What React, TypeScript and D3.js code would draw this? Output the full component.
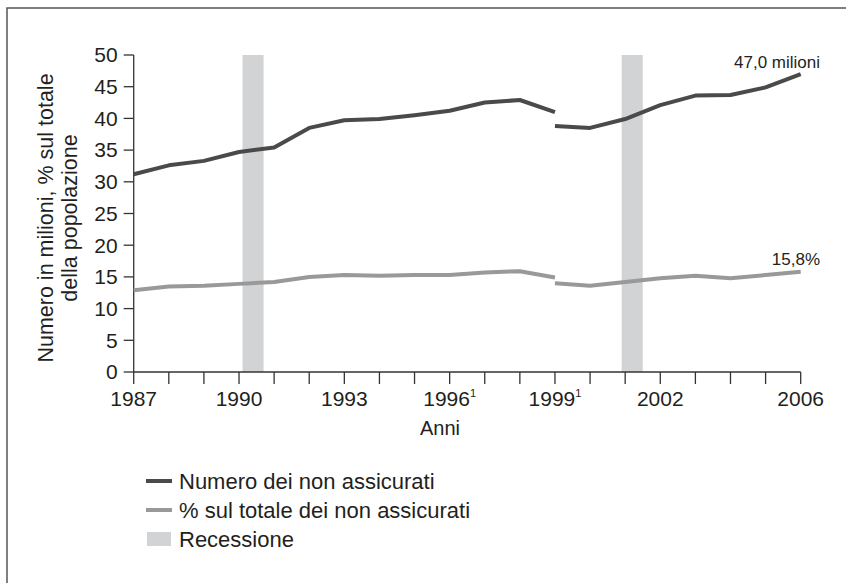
import React from 'react'
import * as d3 from 'd3'

// serie prima e dopo la revisione del 1999
const years1 = [1987, 1988, 1989, 1990, 1991, 1992, 1993, 1994, 1995, 1996, 1997, 1998, 1999]
const uninsured1 = [31.2, 32.6, 33.3, 34.7, 35.4, 38.5, 39.7, 39.9, 40.5, 41.2, 42.5, 42.9, 41.0]
const share1 = [12.9, 13.5, 13.6, 13.9, 14.2, 15.0, 15.3, 15.2, 15.3, 15.3, 15.7, 15.9, 14.9]

const years2 = [1999, 2000, 2001, 2002, 2003, 2004, 2005, 2006]
const uninsured2 = [38.8, 38.5, 39.9, 42.1, 43.6, 43.7, 44.9, 47.0]
const share2 = [14.0, 13.6, 14.2, 14.8, 15.2, 14.8, 15.3, 15.8]

const recessions = [[1990.1, 1990.7], [2000.9, 2001.5]]
const yTicks = [0, 5, 10, 15, 20, 25, 30, 35, 40, 45, 50]
const xLabels = [
  {year: 1987, text: '1987', note: ''},
  {year: 1990, text: '1990', note: ''},
  {year: 1993, text: '1993', note: ''},
  {year: 1996, text: '1996', note: '1'},
  {year: 1999, text: '1999', note: '1'},
  {year: 2002, text: '2002', note: ''},
  {year: 2006, text: '2006', note: ''}
]

const legendItems = [
  {label: 'Numero dei non assicurati', kind: 'line', color: '#4a4a4a'},
  {label: '% sul totale dei non assicurati', kind: 'line', color: '#999999'},
  {label: 'Recessione', kind: 'rect', color: '#d1d3d4'}
]

const DARK = '#4a4a4a'
const LIGHT = '#999999'
const TEXT = '#231f20'
const FONT = 'Liberation Sans, Arial, Helvetica, sans-serif'

const App = () => {
  const width = 846
  const height = 583

  const x = d3.scaleLinear().domain([1987, 2006]).range([133.7, 800.7])
  const y = d3.scaleLinear().domain([0, 50]).range([372, 55])

  const line = d3.line<[number, number]>()
    .x(d => x(d[0]))
    .y(d => y(d[1]))

  const zip = (xs: number[], vs: number[]) => xs.map((v, i) => [v, vs[i]] as [number, number])

  const allYears = d3.range(1987, 2007)

  return (
    <svg width={width} height={height} style={{position: 'absolute', left: 0, top: 0}} fontFamily={FONT}>
      <rect x={0} y={0} width={width} height={height} fill="white"/>
      <rect x={7} y={8} width={width + 20} height={height + 20} fill="none" stroke="#555" strokeWidth={1.5}/>

      {recessions.map((r, i) => (
        <rect key={i} x={x(r[0])} y={y(50)} width={x(r[1]) - x(r[0])} height={y(0) - y(50)} fill="#d1d3d4"/>
      ))}

      {/* asse y */}
      <line x1={x(1987)} x2={x(1987)} y1={y(50)} y2={y(0)} stroke="#333" strokeWidth={1.3}/>
      {yTicks.map(t => (
        <g key={t}>
          <line x1={x(1987) - 10} x2={x(1987)} y1={y(t)} y2={y(t)} stroke="#333" strokeWidth={1.3}/>
          <text x={x(1987) - 16} y={y(t)} dy="0.35em" textAnchor="end" fontSize={21} fill={TEXT}>{t}</text>
        </g>
      ))}

      {/* asse x */}
      <line x1={x(1987)} x2={x(2006)} y1={y(0)} y2={y(0)} stroke="#333" strokeWidth={1.3}/>
      {allYears.map(yr => (
        <line key={yr} x1={x(yr)} x2={x(yr)} y1={y(0)} y2={y(0) + 12} stroke="#333" strokeWidth={1.3}/>
      ))}
      {xLabels.map(l => (
        <text key={l.year} x={x(l.year)} y={406} textAnchor="middle" fontSize={21} fill={TEXT}>
          {l.text}
          {l.note && <tspan fontSize={11} dy={-9}>{l.note}</tspan>}
        </text>
      ))}
      <text x={440} y={435} textAnchor="middle" fontSize={20} fill={TEXT}>Anni</text>

      <text transform="translate(53,218) rotate(-90)" textAnchor="middle" fontSize={21.5} fill={TEXT}>
        Numero in milioni, % sul totale
      </text>
      <text transform="translate(77,218) rotate(-90)" textAnchor="middle" fontSize={21.5} fill={TEXT}>
        della popolazione
      </text>

      {/* serie */}
      <path d={line(zip(years1, uninsured1)) || ''} fill="none" stroke={DARK} strokeWidth={4} strokeLinejoin="round"/>
      <path d={line(zip(years2, uninsured2)) || ''} fill="none" stroke={DARK} strokeWidth={4} strokeLinejoin="round"/>
      <path d={line(zip(years1, share1)) || ''} fill="none" stroke={LIGHT} strokeWidth={4} strokeLinejoin="round"/>
      <path d={line(zip(years2, share2)) || ''} fill="none" stroke={LIGHT} strokeWidth={4} strokeLinejoin="round"/>

      <text x={820} y={68} textAnchor="end" fontSize={17} fill={TEXT}>47,0 milioni</text>
      <text x={820} y={265} textAnchor="end" fontSize={17} fill={TEXT}>15,8%</text>

      {/* legenda */}
      {legendItems.map((item, i) => {
        const cy = 481 + i * 29
        return (
          <g key={item.label}>
            {item.kind === 'line'
              ? <line x1={146} x2={172} y1={cy} y2={cy} stroke={item.color} strokeWidth={4}/>
              : <rect x={147} y={cy - 7} width={24} height={14} fill={item.color}/>}
            <text x={179} y={cy} dy="0.36em" fontSize={22} fill={TEXT}>{item.label}</text>
          </g>
        )
      })}
    </svg>
  )
}

export default App
